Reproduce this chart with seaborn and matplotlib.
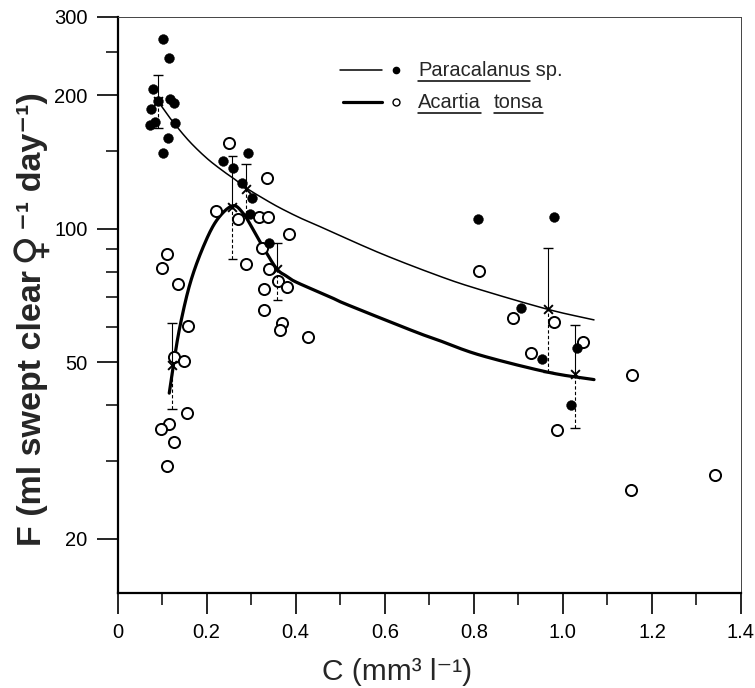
import numpy as np
import pandas as pd
import matplotlib
matplotlib.use("Agg")
import matplotlib.pyplot as plt
import seaborn as sns
from matplotlib.ticker import FixedLocator, NullFormatter, FixedFormatter

# ---------------- data ----------------
para_C = [0.101, 0.116, 0.079, 0.091, 0.118, 0.127, 0.075, 0.073, 0.084, 0.129,
          0.114, 0.101, 0.237, 0.260, 0.293, 0.279, 0.301, 0.297, 0.341,
          0.809, 0.980, 0.907, 0.952, 1.031, 1.018]
para_F = [267, 242, 206, 194, 196, 192, 186, 171, 174, 173,
          160, 148, 142, 137, 148, 127, 117, 108, 92.7,
          105, 106, 66.2, 50.9, 53.8, 40.1]

acar_C = [0.251, 0.336, 0.220, 0.271, 0.318, 0.338, 0.386, 0.324, 0.112, 0.100,
          0.288, 0.341, 0.360, 0.380, 0.136, 0.329, 0.329, 0.369, 0.364, 0.427,
          0.159, 0.127, 0.149, 0.155, 0.115, 0.097, 0.127, 0.111,
          0.812, 0.887, 0.981, 0.928, 1.045, 1.156, 0.987, 1.342, 1.152]
acar_F = [155.8, 130, 109.8, 105.3, 106.4, 106, 97.2, 90.6, 87.7, 81.7,
          83.2, 81, 76.3, 73.8, 74.9, 73, 65.7, 61.2, 59, 57,
          60.4, 51.3, 50.3, 38.5, 36.3, 35.4, 33.1, 29.2,
          80.4, 63, 61.7, 52.4, 55.5, 46.8, 35.2, 27.8, 25.8]

para_mean_C = [0.091, 0.289, 0.966]
para_mean_F = [194, 123, 65.8]
para_err_hi = [222, 140, 90.6]
para_err_lo = [169, 108, 47.6]

acar_mean_C = [0.123, 0.258, 0.359, 1.027]
acar_mean_F = [49.2, 112, 81, 47.0]
acar_err_hi = [61.2, 146, 92.7, 60.8]
acar_err_lo = [39.2, 85.6, 69, 35.6]

para_curve_C = [0.0914, 0.1109, 0.1289, 0.1626, 0.2008, 0.2367, 0.2592, 0.2895,
                0.331, 0.3647, 0.4096, 0.4545, 0.5893, 0.724, 0.8138, 0.9665, 1.0699]
para_curve_F = [193.3, 181.4, 171.8, 156.8, 144, 134.9, 130.1, 123.4,
                116.4, 111.4, 105.8, 101.1, 88.1, 78.1, 72.9, 65.8, 62.3]

acar_curve_C = [0.116, 0.125, 0.140, 0.163, 0.1925, 0.223, 0.258, 0.282, 0.305,
                0.327, 0.357, 0.3782, 0.4022, 0.477, 0.5145, 0.664, 0.724, 0.8138,
                0.9659, 1.0699]
acar_curve_F = [42.6, 49.1, 60.2, 75.4, 91.1, 104.6, 112.6, 108.3, 99.3,
                90.8, 81.3, 78.3, 75.7, 70.2, 67.5, 58.8, 55.9, 51.9,
                47.5, 45.7]

x_ticks = [0, 0.2, 0.4, 0.6, 0.8, 1.0, 1.2, 1.4]
x_tick_labels = ["0", "0.2", "0.4", "0.6", "0.8", "1.0", "1.2", "1.4"]
x_minor = [0.1, 0.3, 0.5, 0.7, 0.9, 1.1, 1.3]
y_ticks = [20, 50, 100, 200, 300]
y_tick_labels = ["20", "50", "100", "200", "300"]
y_minor = [30, 40, 60, 70, 80, 90, 150, 250]

y_label_parts = ["F (ml swept clear", "\u2640", "\u207b\u00b9 day\u207b\u00b9)"]
x_label = "C (mm\u00b3 l\u207b\u00b9)"
legend_names = ["Paracalanus", " sp.", "Acartia", "tonsa"]


# smooth drawing of a curve through the read points (Catmull-Rom in log space)
def smooth(xs, ys, n=20):
    x = np.asarray(xs, float)
    y = np.log10(np.asarray(ys, float))
    P = np.column_stack([x, y])
    P = np.vstack([2 * P[0] - P[1], P, 2 * P[-1] - P[-2]])
    out = []
    t = np.linspace(0, 1, n, endpoint=False)[:, None]
    for i in range(1, len(P) - 2):
        p0, p1, p2, p3 = P[i - 1], P[i], P[i + 1], P[i + 2]
        seg = 0.5 * ((2 * p1) + (-p0 + p2) * t + (2 * p0 - 5 * p1 + 4 * p2 - p3) * t ** 2
                     + (-p0 + 3 * p1 - 3 * p2 + p3) * t ** 3)
        out.append(seg)
    out.append(P[-2][None, :])
    out = np.vstack(out)
    return out[:, 0], 10 ** out[:, 1]


# ---------------- style ----------------
sns.set_theme(style="ticks")
FAM = ["Liberation Sans", "DejaVu Sans"]
plt.rcParams["font.family"] = FAM

W, H = 755, 688
fig = plt.figure(figsize=(W / 100, H / 100), dpi=100)
L, R, T, B = 117.6, 741, 17, 593
ax = fig.add_axes([L / W, 1 - B / H, (R - L) / W, (B - T) / H])
ax.set_yscale("log")

df_p = pd.DataFrame({"C": para_C, "F": para_F})
df_a = pd.DataFrame({"C": acar_C, "F": acar_F})

# curves
pcx, pcy = smooth(para_curve_C, para_curve_F)
acx, acy = smooth(acar_curve_C, acar_curve_F)
sns.lineplot(x=pcx, y=pcy, ax=ax, color="black", lw=1.1,
             sort=False, estimator=None, zorder=2)
sns.lineplot(x=acx, y=acy, ax=ax, color="black", lw=2.3,
             sort=False, estimator=None, zorder=2)

# points
sns.scatterplot(data=df_p, x="C", y="F", ax=ax, color="black", s=50,
                edgecolor="black", linewidth=0.3, zorder=4)
sns.scatterplot(data=df_a, x="C", y="F", ax=ax, color="white", s=64,
                edgecolor="black", linewidth=1.4, zorder=3)

# error bars + means
cap = 0.011
for mc, mf, hi, lo in list(zip(para_mean_C, para_mean_F, para_err_hi, para_err_lo)) + \
        list(zip(acar_mean_C, acar_mean_F, acar_err_hi, acar_err_lo)):
    ax.vlines(mc, mf, hi, color="black", lw=0.8, zorder=5)
    ax.vlines(mc, lo, mf, color="black", lw=0.8, linestyles=(0, (3, 2)), zorder=5)
    ax.hlines([hi, lo], mc - cap, mc + cap, color="black", lw=1.0, zorder=5)
sns.scatterplot(x=para_mean_C + acar_mean_C, y=para_mean_F + acar_mean_F, ax=ax,
                marker="x", color="black", s=40, linewidth=1.4, zorder=6)

# axes
ax.set_xlim(0, 1.4)
ax.set_ylim(15.1, 300)
ax.xaxis.set_major_locator(FixedLocator(x_ticks))
ax.xaxis.set_major_formatter(FixedFormatter(x_tick_labels))
ax.xaxis.set_minor_locator(FixedLocator(x_minor))
ax.yaxis.set_major_locator(FixedLocator(y_ticks))
ax.yaxis.set_major_formatter(FixedFormatter(y_tick_labels))
ax.yaxis.set_minor_locator(FixedLocator(y_minor))
ax.yaxis.set_minor_formatter(NullFormatter())
ax.tick_params(which="major", direction="out", length=15, width=1.2,
               labelsize=14.5, pad=6.5, color="black", labelcolor="black")
ax.tick_params(which="minor", direction="out", length=8.5, width=1.1, color="black")
ax.set_xlabel("")
ax.set_ylabel("")
for s in ["left", "bottom"]:
    ax.spines[s].set_linewidth(1.6)
    ax.spines[s].set_color("black")
for s in ["top", "right"]:
    ax.spines[s].set_visible(True)
    ax.spines[s].set_linewidth(0.7)
    ax.spines[s].set_color("#444444")
ax.grid(False)


def fx(px):
    return px / W


def fy(py):
    return 1 - py / H


fig.canvas.draw()
renderer = fig.canvas.get_renderer()

# y label, composed of pieces so the female sign can be drawn larger
ybase_x = 41
ycur = 546
sizes = [24.5, 30, 24.5]
fams = [FAM, ["DejaVu Sans"], FAM]
gaps = [8, 1, 0]
for part, sz, fm, gp in zip(y_label_parts, sizes, fams, gaps):
    t = fig.text(fx(ybase_x), fy(ycur), part, rotation=90, rotation_mode="anchor",
                 ha="left", va="baseline", fontsize=sz, fontweight="bold", family=fm)
    bb = t.get_window_extent(renderer)
    ycur -= bb.height + gp

fig.text(397 / W, 1 - 672 / H, x_label, ha="center", va="center",
         fontsize=21.5, family=FAM)

# legend (manual, with underlined species names)
fig.add_artist(plt.Line2D([fx(340), fx(382)], [fy(69.5), fy(69.5)], color="black", lw=1.1))
fig.add_artist(plt.Line2D([fx(343), fx(382)], [fy(101.5), fy(101.5)], color="black", lw=2.3))
fig.add_artist(plt.Line2D([fx(396)], [fy(69.5)], marker="o", ms=4.5, color="black", lw=0))
fig.add_artist(plt.Line2D([fx(396)], [fy(101.5)], marker="o", ms=5, mfc="white",
                          mec="black", mew=1.0, lw=0))

LFS = 14.5


def put_words(x0, ybase, words, underline):
    x = x0
    for w, u in zip(words, underline):
        t = fig.text(fx(x), fy(ybase), w, ha="left", va="baseline", fontsize=LFS,
                     family=FAM)
        bb = t.get_window_extent(renderer)
        x1 = x + bb.width
        if u:
            fig.add_artist(plt.Line2D([fx(x), fx(x1)], [fy(ybase + 5), fy(ybase + 5)],
                                      color="black", lw=1.1))
        x = x1


put_words(418, 76, [legend_names[0], legend_names[1]], [True, False])
put_words(418, 108, [legend_names[2]], [True])
put_words(494, 108, [legend_names[3]], [True])

fig.savefig("out.png", dpi=100)
